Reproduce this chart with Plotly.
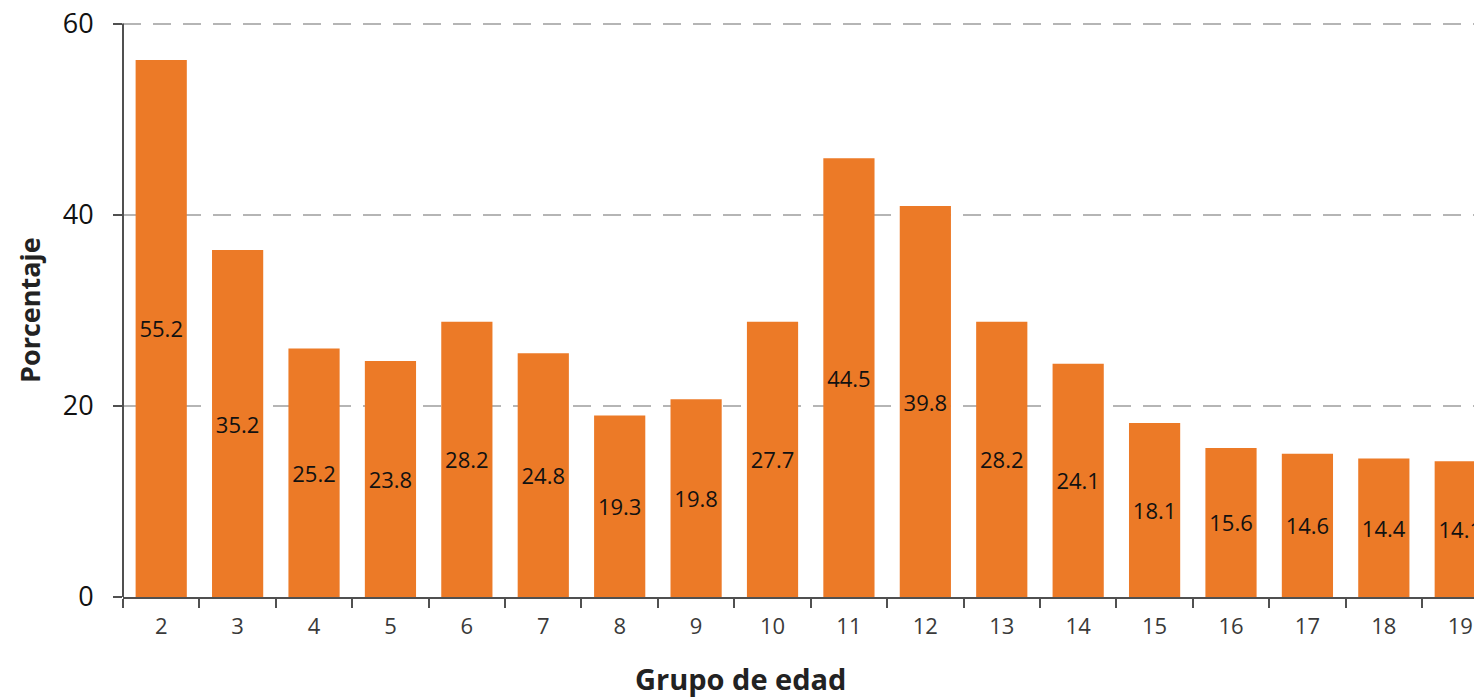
import plotly.graph_objects as go

# Grupos de edad (eje x)
grupos = ["2", "3", "4", "5", "6", "7", "8", "9", "10", "11", "12", "13",
          "14", "15", "16", "17", "18", "19"]
# Altura de las barras tal como se dibujan
alturas = [56.2, 36.3, 26.0, 24.7, 28.8, 25.5, 19.0, 20.7, 28.8, 45.9, 40.9,
           28.8, 24.4, 18.2, 15.6, 15.0, 14.5, 14.2]
# Etiquetas impresas dentro de cada barra
etiquetas = ["55.2", "35.2", "25.2", "23.8", "28.2", "24.8", "19.3", "19.8",
             "27.7", "44.5", "39.8", "28.2", "24.1", "18.1", "15.6", "14.6",
             "14.4", "14.1"]
# Marcas del eje y
marcas_y = [0, 20, 40, 60]

NARANJA = "#ec7a27"
EJE = "#505050"
FUENTE = "Open Sans"

fig = go.Figure(
    go.Bar(
        x=grupos,
        y=alturas,
        text=etiquetas,
        textposition="inside",
        insidetextanchor="middle",
        textangle=0,
        textfont=dict(family=FUENTE, size=22, color="#111111"),
        marker=dict(color=NARANJA, line=dict(width=0)),
        hoverinfo="skip",
    )
)

fig.update_layout(
    width=1474,
    height=697,
    plot_bgcolor="white",
    paper_bgcolor="white",
    bargap=0.33,
    showlegend=False,
    uniformtext=dict(minsize=22, mode="show"),
    font=dict(family=FUENTE, color="#222222"),
    margin=dict(l=123, r=0, t=14, b=100),
    xaxis=dict(
        type="category",
        range=[-0.5, 17.18],
        showline=True,
        linecolor=EJE,
        linewidth=2,
        ticks="outside",
        tickson="boundaries",
        ticklen=9,
        tickwidth=2,
        tickcolor=EJE,
        ticklabelstandoff=9,
        tickfont=dict(family=FUENTE, size=22, color="#3a3a3a"),
        showgrid=False,
        zeroline=False,
    ),
    yaxis=dict(
        range=[0, 61],
        tickvals=marcas_y,
        showline=False,
        ticks="outside",
        ticklen=9,
        tickwidth=2,
        tickcolor=EJE,
        ticklabelstandoff=14,
        tickfont=dict(family=FUENTE, size=27, color="#111111"),
        showgrid=True,
        gridcolor="#b5b5b5",
        gridwidth=2,
        griddash="18px,12px",
        zeroline=False,
    ),
    annotations=[
        dict(
            text="<b>Grupo de edad</b>",
            x=(740 - 123) / 1351,
            xref="paper",
            y=-(678 - 597) / 583,
            yref="paper",
            xanchor="center",
            yanchor="middle",
            showarrow=False,
            font=dict(family=FUENTE, size=29, color="#222222"),
        ),
        dict(
            text="<b>Porcentaje</b>",
            x=(29 - 123) / 1351,
            xref="paper",
            y=(597 - 310) / 583,
            yref="paper",
            xanchor="center",
            yanchor="middle",
            textangle=-90,
            showarrow=False,
            font=dict(family=FUENTE, size=27, color="#222222"),
        ),
    ],
)

# el eje y termina en 60, no en el borde superior del área de trazado
fig.add_shape(
    type="line",
    xref="paper", yref="y",
    x0=0, x1=0, y0=0, y1=marcas_y[-1],
    line=dict(color=EJE, width=2),
)

# sin el margen por defecto del <body>, el gráfico ocupa toda la ventana
fig.write_html(
    "out.html",
    config={"displayModeBar": False},
    post_script="document.body.style.margin = '0';",
)
